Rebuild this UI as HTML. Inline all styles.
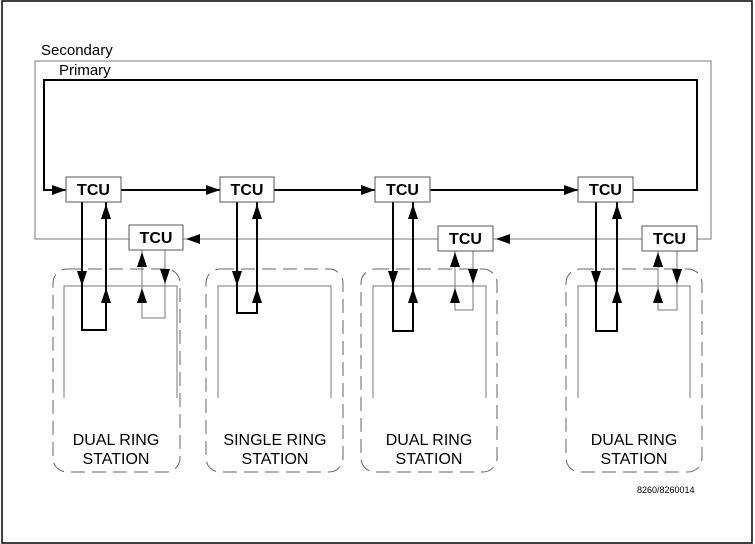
<!DOCTYPE html>
<html><head><meta charset="utf-8"><style>
body{margin:0;background:#fff}
svg{display:block}
text{font-family:"Liberation Sans",Arial,sans-serif;fill:#000}
</style></head><body>
<svg width="755" height="544" viewBox="0 0 755 544" xmlns="http://www.w3.org/2000/svg">
<rect x="2" y="1" width="750" height="542" fill="none" stroke="#000" stroke-width="1.5"/>
<text x="41" y="55" font-size="15">Secondary</text>
<text x="59" y="75" font-size="15">Primary</text>
<path d="M129 239 H35 V61 H711 V239 H697 M642 239 H493 M438 239 H183" fill="none" stroke="#777" stroke-width="1"/>
<path d="M66 190 H44 V80 H697 V190 H633 M578 190 H430 M375 190 H274 M220 190 H121" fill="none" stroke="#000" stroke-width="2"/>
<g fill="#000">
<polygon points="52,185 52,195 66,190"/>
<polygon points="206,185 206,195 220,190"/>
<polygon points="361,185 361,195 375,190"/>
<polygon points="564,185 564,195 578,190"/>
<polygon points="200,234 200,244 186,239"/>
<polygon points="510,234 510,244 496,239"/>
</g>
<g fill="none" stroke="#666" stroke-width="1" stroke-dasharray="14,7">
<rect x="53" y="269" width="127" height="203" rx="14"/>
<rect x="206" y="269" width="137" height="203" rx="14"/>
<rect x="361" y="269" width="136" height="203" rx="14"/>
<rect x="566" y="269" width="136" height="203" rx="14"/>
</g>
<g fill="none" stroke="#777" stroke-width="1">
<path d="M64 398 V286 H177 V398"/>
<path d="M218 398 V286 H331 V398"/>
<path d="M373 398 V286 H486 V398"/>
<path d="M578 398 V286 H690 V398"/>
<path d="M142 250 V318 H165 V250"/>
<path d="M455 251 V310 H473 V251"/>
<path d="M658 251 V310 H677 V251"/>
</g>
<g fill="none" stroke="#000" stroke-width="2">
<path d="M82 202 V330 H106 V202"/>
<path d="M237 202 V313 H257 V202"/>
<path d="M393 202 V331 H413 V202"/>
<path d="M596 202 V331 H617 V202"/>
</g>
<g fill="#000">
<polygon points="77,271 87,271 82,286"/><polygon points="101,219 111,219 106,204"/><polygon points="101,303 111,303 106,288"/>
<polygon points="137,267 147,267 142,252"/><polygon points="137,303 147,303 142,288"/><polygon points="160,269 170,269 165,284"/>
<polygon points="232,271 242,271 237,286"/><polygon points="252,219 262,219 257,204"/><polygon points="252,303 262,303 257,288"/>
<polygon points="388,271 398,271 393,286"/><polygon points="408,219 418,219 413,204"/><polygon points="408,303 418,303 413,288"/>
<polygon points="450,267 460,267 455,252"/><polygon points="450,303 460,303 455,288"/><polygon points="468,269 478,269 473,284"/>
<polygon points="591,271 601,271 596,286"/><polygon points="612,219 622,219 617,204"/><polygon points="612,303 622,303 617,288"/>
<polygon points="653,267 663,267 658,252"/><polygon points="653,303 663,303 658,288"/><polygon points="672,269 682,269 677,284"/>
</g>
<g fill="#fff" stroke="#555" stroke-width="1">
<rect x="66" y="177" width="55" height="25"/>
<rect x="220" y="177" width="54" height="25"/>
<rect x="375" y="177" width="55" height="25"/>
<rect x="578" y="177" width="55" height="25"/>
<rect x="129" y="225" width="54" height="25"/>
<rect x="438" y="226" width="55" height="25"/>
<rect x="642" y="226" width="55" height="25"/>
</g>
<g font-size="16" font-weight="bold" text-anchor="middle">
<text x="93.5" y="195">TCU</text>
<text x="247" y="195">TCU</text>
<text x="402.5" y="195">TCU</text>
<text x="605.5" y="195">TCU</text>
<text x="156" y="243">TCU</text>
<text x="465.5" y="244">TCU</text>
<text x="669.5" y="244">TCU</text>
</g>
<g font-size="16" text-anchor="middle">
<text x="116" y="445">DUAL RING</text>
<text x="116" y="464">STATION</text>
<text x="275" y="445">SINGLE RING</text>
<text x="275" y="464">STATION</text>
<text x="429" y="445">DUAL RING</text>
<text x="429" y="464">STATION</text>
<text x="634" y="445">DUAL RING</text>
<text x="634" y="464">STATION</text>
</g>
<text x="637" y="493" font-size="9">8260/8260014</text>
</svg>
</body></html>
